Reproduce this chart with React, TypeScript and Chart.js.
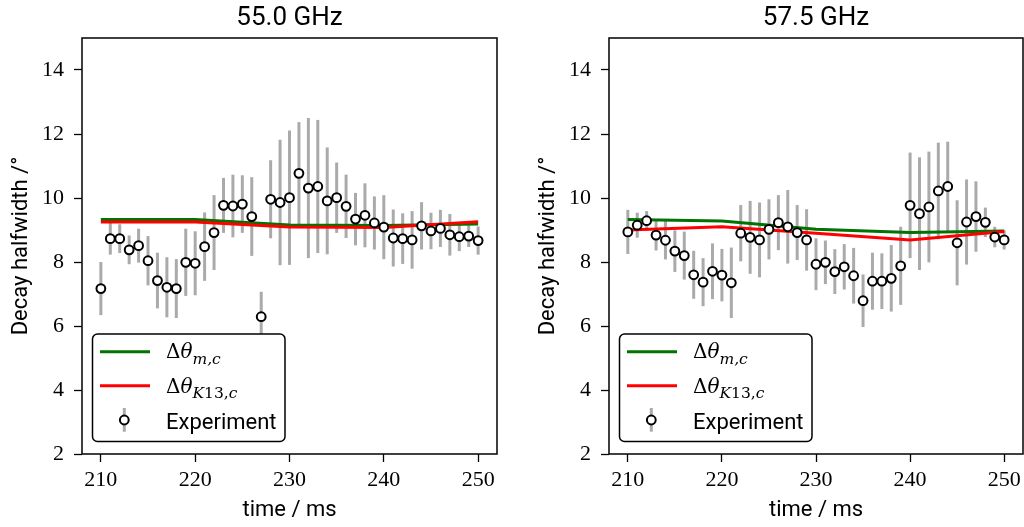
import React, { useEffect, useRef } from "react";
import { Chart, registerables } from "chart.js";

Chart.register(...registerables);

// ---------- data ----------
const times = [
  210, 211, 212, 213, 214, 215, 216, 217, 218, 219,
  220, 221, 222, 223, 224, 225, 226, 227, 228, 229,
  230, 231, 232, 233, 234, 235, 236, 237, 238, 239,
  240, 241, 242, 243, 244, 245, 246, 247, 248, 249, 250,
];

const exp55 = [
  7.17, 8.73, 8.73, 8.38, 8.51, 8.04, 7.42, 7.21, 7.17, 7.99,
  7.96, 8.48, 8.92, 9.77, 9.75, 9.81, 9.42, 6.29, 9.96, 9.86,
  10.01, 10.77, 10.31, 10.36, 9.91, 10.01, 9.74, 9.34, 9.46, 9.22,
  9.09, 8.75, 8.73, 8.69, 9.13, 8.97, 9.05, 8.85, 8.79, 8.81, 8.67,
];
const err55 = [
  0.83, 0.5, 0.45, 0.45, 0.53, 0.77, 0.87, 0.94, 0.92, 1.05,
  1.0, 1.07, 1.17, 0.86, 0.98, 0.9, 1.23, 0.78, 1.22, 1.96,
  2.1, 1.6, 2.19, 2.08, 1.67, 1.1, 0.99, 0.82, 1.0, 0.83,
  1.0, 0.89, 0.79, 0.9, 0.74, 0.57, 0.58, 0.65, 0.45, 0.34, 0.44,
];

const exp57 = [
  8.94, 9.15, 9.29, 8.84, 8.68, 8.34, 8.2, 7.6, 7.37, 7.71,
  7.59, 7.35, 8.9, 8.77, 8.69, 9.02, 9.23, 9.1, 8.92, 8.69,
  7.93, 7.99, 7.7, 7.85, 7.57, 6.79, 7.4, 7.4, 7.49, 7.88,
  9.77, 9.51, 9.72, 10.22, 10.36, 8.6, 9.25, 9.42, 9.24, 8.78, 8.69,
];
const err57 = [
  0.69, 0.39, 0.3, 0.48, 0.6, 0.65, 0.75, 0.75, 0.75, 0.87,
  0.82, 1.1, 0.88, 1.14, 1.17, 0.94, 0.86, 1.15, 0.86, 0.96,
  0.81, 0.68, 0.7, 0.71, 0.87, 0.82, 0.89, 0.87, 1.04, 1.22,
  1.65, 1.76, 1.73, 1.51, 1.4, 1.33, 1.33, 1.1, 0.46, 0.32, 0.3,
];

const modelTimes = [210, 220, 230, 240, 250];
const model55m = [9.33, 9.33, 9.16, 9.14, 9.19];
const model55k = [9.25, 9.25, 9.09, 9.08, 9.26];
const model57m = [9.33, 9.28, 9.02, 8.92, 8.97];
const model57k = [9.0, 9.1, 8.9, 8.69, 8.95];

const xTicks = [210, 220, 230, 240, 250];
const yTicks = [2, 4, 6, 8, 10, 12, 14];
const xRange = [208, 252];
const yRange = [2, 15];

const titles = ["55.0 GHz", "57.5 GHz"];
const xLabel = "time / ms";
const yLabel = "Decay halfwidth /°";
const expLabel = "Experiment";

// ---------- styling ----------
const SANS = "Roboto, 'Open Sans', sans-serif";
const SERIF = "'Liberation Serif', 'DejaVu Serif', serif";
const MATH = "'DejaVu Serif', serif";
const GREEN = "#007300";
const RED = "#ff0000";
const ERR_GREY = "#aaaaaa";

type Part = { t: string; font: string; dy: number };

function drawParts(ctx: CanvasRenderingContext2D, x: number, y: number, parts: Part[]) {
  let cx = x;
  for (const p of parts) {
    ctx.font = p.font;
    ctx.fillText(p.t, cx, y + p.dy);
    cx += ctx.measureText(p.t).width;
  }
}

function drawMarker(ctx: CanvasRenderingContext2D, x: number, y: number) {
  ctx.beginPath();
  ctx.arc(x, y, 4.4, 0, Math.PI * 2);
  ctx.fillStyle = "#fff";
  ctx.fill();
  ctx.lineWidth = 2;
  ctx.strokeStyle = "#000";
  ctx.stroke();
}

function makeChart(
  canvas: HTMLCanvasElement,
  title: string,
  vals: number[],
  errs: number[],
  mVals: number[],
  kVals: number[],
  yAxisWidth: number,
  padRight: number
) {
  const decor = {
    id: "decor",
    beforeDatasetsDraw(chart: any) {
      const ctx = chart.ctx as CanvasRenderingContext2D;
      const xs = chart.scales.x;
      const ys = chart.scales.y;
      ctx.save();
      ctx.strokeStyle = ERR_GREY;
      ctx.lineWidth = 3;
      times.forEach((t, i) => {
        const px = xs.getPixelForValue(t);
        ctx.beginPath();
        ctx.moveTo(px, ys.getPixelForValue(vals[i] - errs[i]));
        ctx.lineTo(px, ys.getPixelForValue(vals[i] + errs[i]));
        ctx.stroke();
      });
      ctx.restore();
    },
    afterDraw(chart: any) {
      const ctx = chart.ctx as CanvasRenderingContext2D;
      const ca = chart.chartArea;
      const L = ca.left;
      const B = ca.bottom;
      const cx = (ca.left + ca.right) / 2;
      ctx.save();
      // frame
      ctx.strokeStyle = "#000";
      ctx.lineWidth = 1.5;
      ctx.strokeRect(ca.left, ca.top, ca.right - ca.left, ca.bottom - ca.top);

      // title
      ctx.fillStyle = "#000";
      ctx.textAlign = "center";
      ctx.textBaseline = "alphabetic";
      ctx.font = `26px ${SANS}`;
      ctx.fillText(title, cx, 25);

      // x label
      ctx.font = `22px ${SANS}`;
      ctx.fillText(xLabel, cx, 516);

      // y label
      ctx.save();
      ctx.translate(L - 55, (ca.top + ca.bottom) / 2);
      ctx.rotate(-Math.PI / 2);
      ctx.fillText(yLabel, 0, 0);
      ctx.restore();

      // legend
      const bx = L + 10.5;
      const by = B - 120;
      const bw = 192.5;
      const bh = 107.5;
      ctx.beginPath();
      ctx.roundRect(bx, by, bw, bh, 5);
      ctx.fillStyle = "#fff";
      ctx.fill();
      ctx.lineWidth = 1.5;
      ctx.strokeStyle = "#000";
      ctx.stroke();

      ctx.lineWidth = 3;
      ctx.strokeStyle = GREEN;
      ctx.beginPath();
      ctx.moveTo(L + 18, B - 102.3);
      ctx.lineTo(L + 68, B - 102.3);
      ctx.stroke();
      ctx.strokeStyle = RED;
      ctx.beginPath();
      ctx.moveTo(L + 18, B - 68.3);
      ctx.lineTo(L + 68, B - 68.3);
      ctx.stroke();

      ctx.strokeStyle = ERR_GREY;
      ctx.beginPath();
      ctx.moveTo(L + 42.3, B - 46);
      ctx.lineTo(L + 42.3, B - 22.3);
      ctx.stroke();
      drawMarker(ctx, L + 42.3, B - 34);

      ctx.fillStyle = "#000";
      ctx.textAlign = "left";
      const big = `20px ${MATH}`;
      const bigI = `italic 20px ${MATH}`;
      const subI = `italic 15.5px ${MATH}`;
      const sub = `15.5px ${MATH}`;
      drawParts(ctx, L + 84, B - 95.7, [
        { t: "Δ", font: big, dy: 0 },
        { t: "θ", font: bigI, dy: 0 },
        { t: "m,c", font: subI, dy: 5.5 },
      ]);
      drawParts(ctx, L + 84, B - 61.3, [
        { t: "Δ", font: big, dy: 0 },
        { t: "θ", font: bigI, dy: 0 },
        { t: "K", font: subI, dy: 5.5 },
        { t: "13,", font: sub, dy: 5.5 },
        { t: "c", font: subI, dy: 5.5 },
      ]);
      ctx.font = `22px ${SANS}`;
      ctx.fillText(expLabel, L + 84, B - 25);
      ctx.restore();
    },
  };

  const tickGrid = {
    display: true,
    drawOnChartArea: false,
    drawTicks: true,
    tickLength: 8,
    tickWidth: 1.3,
    tickColor: "#000",
    color: "#000",
  };

  return new Chart(canvas, {
    type: "scatter",
    data: {
      datasets: [
        {
          label: "m",
          data: modelTimes.map((t, i) => ({ x: t, y: mVals[i] })),
          showLine: true,
          borderColor: GREEN,
          backgroundColor: GREEN,
          borderWidth: 3,
          pointRadius: 0,
          tension: 0,
          order: 2,
        },
        {
          label: "k",
          data: modelTimes.map((t, i) => ({ x: t, y: kVals[i] })),
          showLine: true,
          borderColor: RED,
          backgroundColor: RED,
          borderWidth: 3,
          pointRadius: 0,
          tension: 0,
          order: 1,
        },
        {
          label: expLabel,
          data: times.map((t, i) => ({ x: t, y: vals[i] })),
          showLine: false,
          pointRadius: 4.4,
          pointBackgroundColor: "#fff",
          pointBorderColor: "#000",
          pointBorderWidth: 2,
          order: 0,
        },
      ],
    },
    options: {
      animation: false,
      responsive: false,
      events: [],
      layout: { padding: { left: 0, top: 38, right: padRight, bottom: 0 } },
      plugins: {
        legend: { display: false },
        tooltip: { enabled: false },
        title: { display: false },
      },
      scales: {
        x: {
          type: "linear",
          min: xRange[0],
          max: xRange[1],
          afterBuildTicks: (s: any) => {
            s.ticks = xTicks.map((v) => ({ value: v }));
          },
          afterFit: (s: any) => {
            s.height = 73;
          },
          grid: tickGrid,
          border: { display: false },
          ticks: {
            font: { family: SERIF, size: 22 },
            color: "#000",
            padding: 5,
            maxRotation: 0,
            autoSkip: false,
            callback: (v: any) => String(v),
          },
        },
        y: {
          type: "linear",
          min: yRange[0],
          max: yRange[1],
          afterBuildTicks: (s: any) => {
            s.ticks = yTicks.map((v) => ({ value: v }));
          },
          afterFit: (s: any) => {
            s.width = yAxisWidth;
          },
          grid: tickGrid,
          border: { display: false },
          ticks: {
            font: { family: SERIF, size: 22 },
            color: "#000",
            padding: 10,
            autoSkip: false,
            callback: (v: any) => String(v),
          },
        },
      },
    } as any,
    plugins: [decor],
  });
}

export default function App() {
  const leftRef = useRef<HTMLCanvasElement>(null);
  const rightRef = useRef<HTMLCanvasElement>(null);

  useEffect(() => {
    const c1 = makeChart(leftRef.current!, titles[0], exp55, err55, model55m, model55k, 82, 15);
    const c2 = makeChart(rightRef.current!, titles[1], exp57, err57, model57m, model57k, 97, 9);
    return () => {
      c1.destroy();
      c2.destroy();
    };
  }, []);

  return (
    <div
      style={{
        position: "absolute",
        left: 0,
        top: 0,
        width: 1024,
        height: 527,
        overflow: "hidden",
        background: "#fff",
      }}
    >
      <canvas ref={leftRef} width={512} height={527} style={{ position: "absolute", left: 0, top: 0 }} />
      <canvas ref={rightRef} width={520} height={527} style={{ position: "absolute", left: 512, top: 0 }} />
    </div>
  );
}
